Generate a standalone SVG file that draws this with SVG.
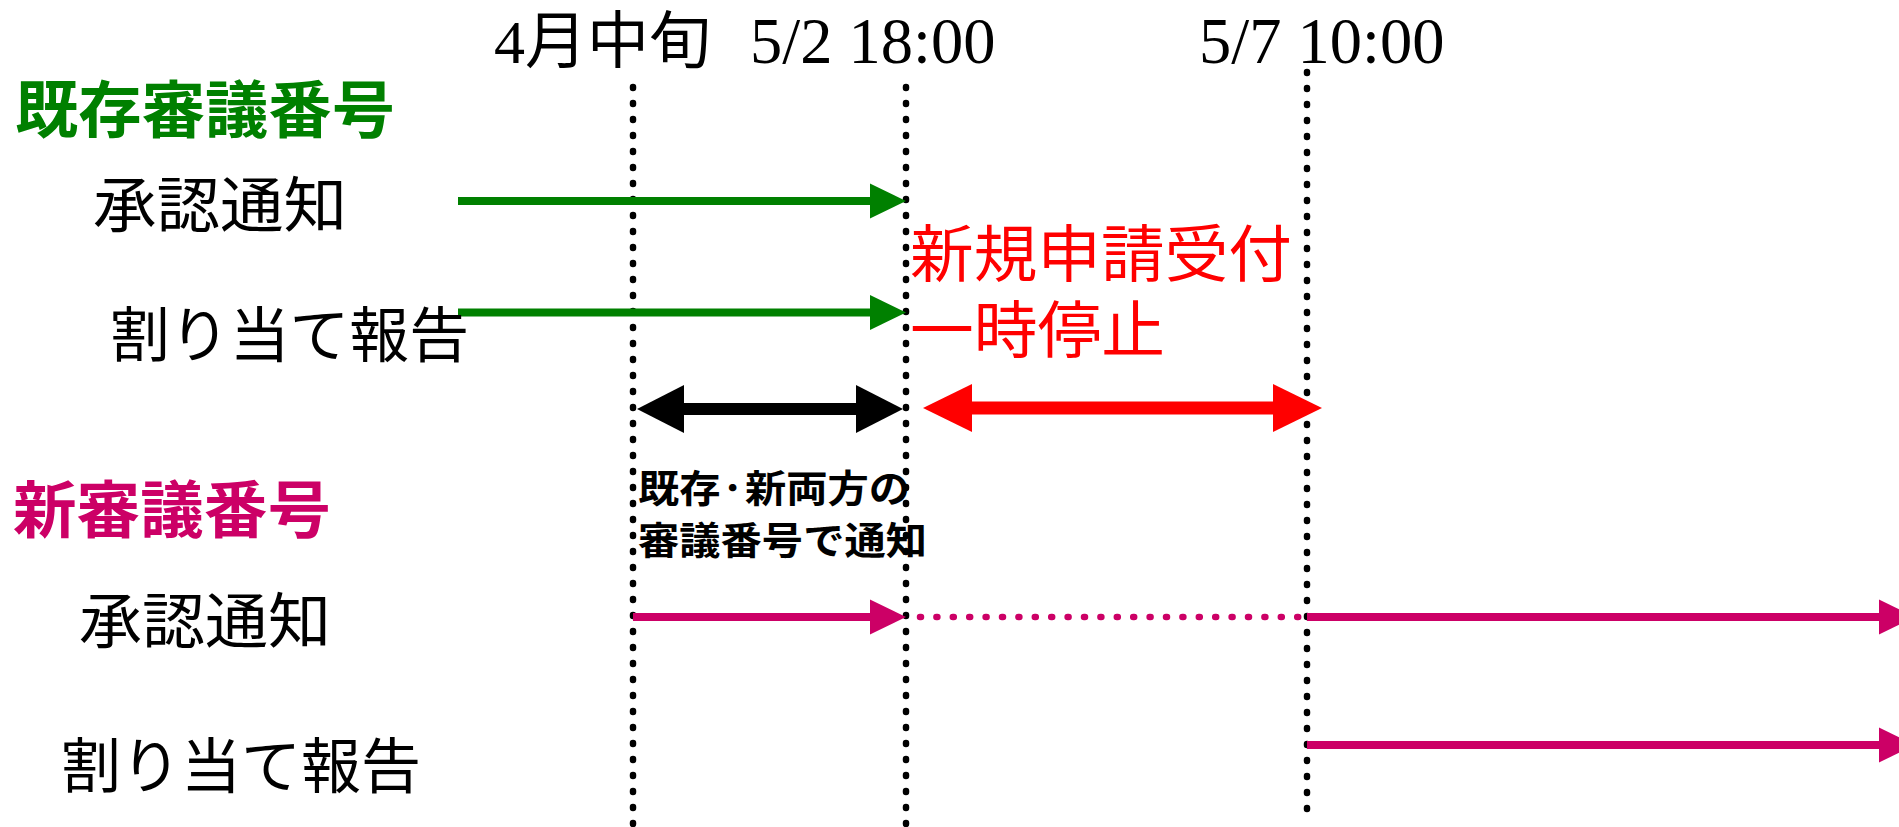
<svg xmlns="http://www.w3.org/2000/svg" width="1899" height="827" viewBox="0 0 1899 827">
<style>
.jp{font-family:"Noto Sans CJK JP","Noto Sans",sans-serif;}
.hdr{font-family:"Liberation Serif","Noto Sans CJK JP",serif;font-size:62px;fill:#000;}
.hdn{font-family:"Liberation Serif",serif;font-size:64.5px;fill:#000;}
.lbl{font-size:60px;fill:#000;}
.grn{font-size:62px;font-weight:bold;fill:#008000;}
.mag{font-size:62px;font-weight:bold;fill:#CC0066;}
.red{font-size:62px;fill:#FF0000;}
.note{font-size:38px;font-weight:bold;fill:#000;}
.vdot{stroke:#000;stroke-width:6.5;stroke-linecap:round;stroke-dasharray:1 15;fill:none;}
.sg{stroke:#008000;stroke-width:8;fill:none;}
.sm{stroke:#CC0066;stroke-width:8;fill:none;}
.smd{stroke:#CC0066;stroke-width:6.5;stroke-linecap:round;stroke-dasharray:1 15.4;fill:none;}
.dbk{stroke:#000;stroke-width:12;fill:none;}
.drd{stroke:#FF0000;stroke-width:13;fill:none;}
</style>
<defs>
<marker id="ahG" markerUnits="userSpaceOnUse" markerWidth="36" markerHeight="35" refX="1" refY="17.5" orient="auto" overflow="visible"><path d="M0,0 L36,17.5 L0,35 z" fill="#008000"/></marker>
<marker id="ahM" markerUnits="userSpaceOnUse" markerWidth="36" markerHeight="35" refX="1" refY="17.5" orient="auto" overflow="visible"><path d="M0,0 L36,17.5 L0,35 z" fill="#CC0066"/></marker>
<marker id="ahK" markerUnits="userSpaceOnUse" markerWidth="47" markerHeight="48" refX="1" refY="24" orient="auto-start-reverse" overflow="visible"><path d="M0,0 L47,24 L0,48 z" fill="#000"/></marker>
<marker id="ahR" markerUnits="userSpaceOnUse" markerWidth="49" markerHeight="48" refX="1" refY="24" orient="auto-start-reverse" overflow="visible"><path d="M0,0 L49,24 L0,48 z" fill="#FF0000"/></marker>
</defs>
<rect width="1899" height="827" fill="#fff"/>
<g id="timeline-headers">
<text id="t-april" class="hdr" x="494" y="63">4月中旬</text>
<text id="t-0502" class="hdn" x="750" y="63">5/2 18:00</text>
<text id="t-0507" class="hdn" x="1199" y="63">5/7 10:00</text>
</g>
<g id="connectors">
<line class="vdot" x1="633" y1="87" x2="633" y2="830"/>
<line class="vdot" x1="906" y1="87" x2="906" y2="830"/>
<line class="vdot" x1="1307" y1="72" x2="1307" y2="810"/>
<line class="sg" x1="458" y1="201" x2="871" y2="201" marker-end="url(#ahG)"/>
<line class="sg" x1="458" y1="312.5" x2="871" y2="312.5" marker-end="url(#ahG)"/>
<line class="dbk" x1="683" y1="409" x2="857" y2="409" marker-start="url(#ahK)" marker-end="url(#ahK)"/>
<line class="drd" x1="971" y1="408" x2="1274" y2="408" marker-start="url(#ahR)" marker-end="url(#ahR)"/>
<line class="sm" x1="633" y1="617" x2="871" y2="617" marker-end="url(#ahM)"/>
<line class="smd" x1="920" y1="617" x2="1300" y2="617"/>
<line class="sm" x1="1307" y1="617" x2="1880" y2="617" marker-end="url(#ahM)"/>
<line class="sm" x1="1307" y1="745" x2="1880" y2="745" marker-end="url(#ahM)"/>
</g>
<g id="existing-group">
<text id="existing-title" class="jp grn" x="15" y="133" textLength="380" lengthAdjust="spacingAndGlyphs">既存審議番号</text>
</g>
<g id="existing-approval">
<text class="jp lbl" x="93" y="227" textLength="254" lengthAdjust="spacingAndGlyphs">承認通知</text>
</g>
<g id="existing-allocation">
<text class="jp lbl" x="110" y="357" textLength="359" lengthAdjust="spacingAndGlyphs">割り当て報告</text>
</g>
<g id="suspension-note">
<text class="jp red" x="910" y="277" textLength="382" lengthAdjust="spacingAndGlyphs">新規申請受付</text>
<text class="jp red" x="910" y="353" textLength="255" lengthAdjust="spacingAndGlyphs">一時停止</text>
</g>
<g id="both-note">
<text class="jp note" x="638" y="502" textLength="272" lengthAdjust="spacingAndGlyphs">既存·新両方の</text>
<text class="jp note" x="638" y="554" textLength="289" lengthAdjust="spacingAndGlyphs">審議番号で通知</text>
</g>
<g id="new-group">
<text id="new-title" class="jp mag" x="13" y="533" textLength="318" lengthAdjust="spacingAndGlyphs">新審議番号</text>
</g>
<g id="new-approval">
<text class="jp lbl" x="79" y="643" textLength="252" lengthAdjust="spacingAndGlyphs">承認通知</text>
</g>
<g id="new-allocation">
<text class="jp lbl" x="61" y="788" textLength="360" lengthAdjust="spacingAndGlyphs">割り当て報告</text>
</g>
</svg>
